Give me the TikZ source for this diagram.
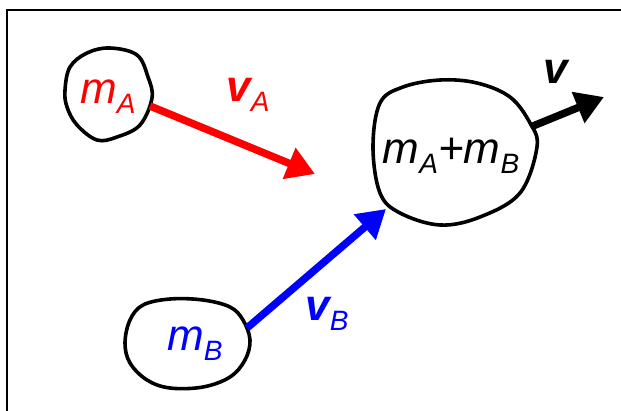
\documentclass[tikz,border=0pt]{standalone}
\usepackage{fontspec}
\setmainfont{Liberation Sans}
\usetikzlibrary{arrows.meta}
\newcommand{\sbs}[1]{\raisebox{-0.22em}{\fontsize{28}{28}\selectfont\itshape #1}}
\tikzset{
  blob/.style={line width=3.6pt, line join=round},
  mass/.style={font=\fontsize{44}{46}\selectfont\itshape, inner sep=0pt},
  vel/.style={line width=7.5pt, -{Triangle[length=28pt,width=32pt]}},
  vlab/.style={font=\fontsize{44}{46}\selectfont\itshape, inner sep=0pt}
}
\begin{document}
\begin{tikzpicture}[x=1pt,y=-1pt]
\useasboundingbox (0,0) rectangle (621,410);
\fill[white] (0,0) rectangle (621,410);
% frame
\draw[line width=2.8pt] (7,412) -- (7,10) -- (623,10);
% blobs
\draw[blob] plot[smooth cycle, tension=0.6] coordinates {(65,90) (70,67) (87,53) (110,48) (137,55) (148,77) (152,98) (140,125) (117,137) (97,140) (77,125) (67,107)};
\draw[blob] plot[smooth cycle, tension=0.6] coordinates {(440,80) (403,87) (380,103) (373,147) (380,193) (400,213) (440,225) (480,217) (520,193) (537,147) (530,123) (510,97) (477,83)};
\draw[blob] plot[smooth cycle, tension=0.6] coordinates {(125,343) (130,320) (143,305) (170,299) (203,300) (230,307) (243,320) (250,340) (245,360) (230,377) (203,387) (170,388) (147,380) (130,363)};
% texts
\node[mass, text=red] (mA) at (108,97) {m\sbs{A}};
\node[mass, text=blue] (mB) at (195,344) {m\sbs{B}};
\node[mass] (mAB) at (451,156) {m\sbs{A}+m\sbs{B}};
% arrow endpoints
\coordinate (aS) at (150,106);
\coordinate (aT) at (315,174);
\coordinate (bS) at (247,328);
\coordinate (bT) at (386,209);
\coordinate (cS) at (533,126);
\coordinate (cT) at (604,97);
\draw[vel, red] (aS) -- (aT);
\draw[vel, blue] (bS) -- (bT);
\draw[vel, black] (cS) -- (cT);
% labels
\node[vlab, text=red] (vA) at (248,95) {\textbf{v}\sbs{A}};
\node[vlab, text=blue] (vB) at (327,314) {\textbf{v}\sbs{B}};
\node[vlab] (v) at (556,72) {\textbf{v}};
\end{tikzpicture}
\end{document}
